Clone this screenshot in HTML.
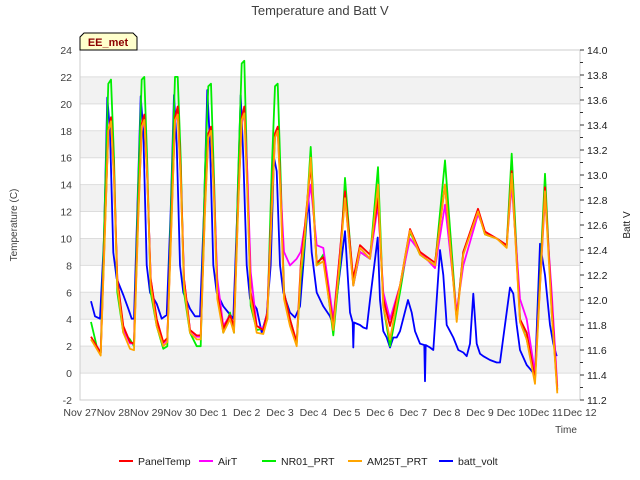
<!DOCTYPE html>
<html><head><meta charset="utf-8"><style>
body{margin:0;background:#fff;}
svg{display:block;font-family:"Liberation Sans","DejaVu Sans",sans-serif;}
</style></head><body>
<svg id="chart" width="640" height="480" viewBox="0 0 640 480">
<rect x="0" y="0" width="640" height="480" fill="#fff"/>
<g id="bands"></g>
<g id="grid"></g>
<rect x="80" y="50" width="500" height="350" fill="none" stroke="#ccc"/>
<g id="series"></g>
<g id="axes"></g>
<text x="320" y="15" text-anchor="middle" font-size="13" fill="#404040">Temperature and Batt V</text>
<g>
<path d="M80,50 L80,37 L84,33 L133,33 L137,37 L137,50 Z" fill="#ffffcc" stroke="#000" stroke-width="1"/>
<text x="108" y="46" text-anchor="middle" font-size="11" font-weight="bold" fill="#8b0000">EE_met</text>
</g>
<text transform="translate(17,225) rotate(-90)" text-anchor="middle" font-size="10" fill="#404040">Temperature (C)</text>
<text transform="translate(630,225) rotate(-90)" text-anchor="middle" font-size="10" fill="#202020">Batt V</text>
<text x="566" y="433" text-anchor="middle" font-size="10" fill="#404040">Time</text>
<g id="legend"></g>
</svg>
<script>
const xTickLabels=["Nov 27","Nov 28","Nov 29","Nov 30","Dec 1","Dec 2","Dec 3","Dec 4","Dec 5","Dec 6","Dec 7","Dec 8","Dec 9","Dec 10","Dec 11","Dec 12"];
const yTicks=[-2,0,2,4,6,8,10,12,14,16,18,20,22,24];
const y2Ticks=[11.2,11.4,11.6,11.8,12.0,12.2,12.4,12.6,12.8,13.0,13.2,13.4,13.6,13.8,14.0];
const seriesNames=["PanelTemp","AirT","NR01_PRT","AM25T_PRT","batt_volt"];
const T=[0.33,0.5,0.62,0.75,0.85,0.93,1.02,1.12,1.3,1.5,1.62,1.75,1.85,1.93,2.02,2.12,2.3,2.5,2.62,2.75,2.85,2.93,3.02,3.12,3.3,3.5,3.62,3.75,3.85,3.93,4.02,4.12,4.3,4.5,4.62,4.75,4.85,4.93,5.02,5.12,5.3,5.5,5.62,5.75,5.85,5.93,6.02,6.12,6.3,6.5,6.62,6.75,6.92,7.1,7.3,7.6,7.8,7.95,8.2,8.4,8.7,8.94,9.1,9.3,9.6,9.9,10.2,10.65,10.95,11.3,11.5,11.94,12.15,12.5,12.8,12.95,13.2,13.4,13.65,13.95,14.15,14.32];
const panelTemp=[2.7,2.0,1.5,11,18,19,15,7,3.5,2.3,2.2,12,18.5,19.2,14.5,7,4,2.3,2.6,12,19,19.8,15,7,3.2,2.8,2.8,12.5,17.8,18.3,13.5,6,3.3,4.3,3.5,13,19,19.8,14,6,3.5,3.2,4.5,12.5,17.8,18.3,13.5,6,4,2.3,8,11,15.5,8.2,8.6,3.5,9,13.5,7,9.5,8.8,13,5.5,3.5,6.5,10.7,9,8.2,14,4,9,12.2,10.5,10,9.5,15,4,3,-0.5,13.8,5,-1.3];
const airT=[2.5,2.0,1.5,11,18,18.7,14.5,7,3.3,2.2,2.2,12,18,19,14.5,7,4,2.2,2.5,12,18.5,19.5,14.5,7,3.2,2.7,2.7,12.5,17.5,18,13.5,7,3.5,4.3,3.5,13,18.5,19.5,15,7.5,3.5,3.3,4.5,12.5,17.5,18,13.5,9,8,8.5,9,11,14,9.5,9.3,4,9,13,6.5,9,8.5,12.5,6,4,6.5,10,9,7.8,12.5,4.5,8,11.8,10.5,10,9.5,14,5.5,4,0,13,6,-1];
const nr01=[3.8,2.0,1.5,13,21.5,21.8,16,6,3,2.5,2,14,21.8,22,15.5,6,3.5,1.8,2,14,22,22,16,6,3,2,2,15,21.3,21.5,14.5,6,3,4.5,3,15,23,23.2,14.5,5,3.2,3.3,4,15,21.3,21.5,14.5,6,4,2.2,7,10,16.8,8,8.8,2.8,8,14.5,6.5,9,8.5,15.3,5,2,6,10.5,8.8,8,15.8,4,9,12,10.3,10,9.5,16.3,4,2.5,-0.5,14.8,4.5,-1.2];
const am25t=[2.5,1.8,1.3,10.5,18,18.7,14.5,6.5,3,1.8,1.7,11.5,18.3,18.8,14.5,6.5,3.5,2,2.3,11.5,18.8,19.2,14.5,6.5,3,2.5,2.5,12,17.5,18,13,5.5,3,4,3,12.5,18.8,19.3,13.5,5.5,3,2.9,4,12,17.5,18,13,5.5,3.5,2,7.5,10.5,16,8,8.3,3.2,8.5,13,6.5,9.3,8.5,14,5,2.5,6.5,10.6,8.8,8,14,3.8,8.8,12,10.3,10,9.3,14.8,3.8,2.5,-0.8,13.5,4.5,-1.5];
const BT=[0.33,0.45,0.6,0.72,0.82,0.9,1.0,1.1,1.3,1.45,1.55,1.62,1.72,1.82,1.9,2.0,2.1,2.3,2.45,2.6,2.72,2.82,2.9,3.0,3.1,3.3,3.45,3.6,3.72,3.82,3.9,4.0,4.1,4.3,4.45,4.6,4.72,4.82,4.9,5.0,5.1,5.3,5.45,5.6,5.72,5.82,5.9,6.0,6.1,6.3,6.45,6.6,6.7,6.85,6.95,7.1,7.3,7.5,7.6,7.95,8.1,8.18,8.2,8.22,8.4,8.5,8.6,8.7,8.93,9.0,9.1,9.2,9.3,9.4,9.5,9.6,9.84,9.95,10.05,10.2,10.33,10.35,10.37,10.5,10.6,10.8,10.9,11.0,11.1,11.2,11.35,11.5,11.6,11.7,11.8,11.9,12.0,12.1,12.3,12.5,12.6,12.7,12.9,13.0,13.1,13.2,13.4,13.5,13.65,13.8,13.95,14.1,14.2,14.3];
const battVolt=[11.99,11.87,11.85,12.49,13.62,13.35,12.38,12.17,12.04,11.93,11.85,11.85,12.71,13.63,13.35,12.28,12.06,11.97,11.85,11.88,12.71,13.64,13.25,12.28,12.06,11.93,11.87,11.87,12.71,13.68,13.25,12.28,12.06,11.95,11.9,11.85,12.71,13.64,13.14,12.28,12.01,11.93,11.74,11.88,12.28,13.14,13.03,12.28,12.06,11.9,11.86,11.95,12.28,12.82,12.38,12.06,11.95,11.87,11.8,12.55,11.9,11.82,11.62,11.82,11.8,11.78,11.77,12.0,12.5,12.0,11.75,11.7,11.62,11.7,11.7,11.75,12.0,11.9,11.75,11.65,11.64,11.35,11.64,11.62,11.6,12.4,12.2,11.8,11.75,11.7,11.6,11.58,11.55,11.65,12.05,11.65,11.57,11.55,11.52,11.5,11.5,11.7,12.1,12.05,11.8,11.6,11.48,11.45,11.4,12.45,12.2,11.8,11.65,11.55];

const NS='http://www.w3.org/2000/svg';
const X0=80,X1=580,Y0=400,Y1=50;
function xs(t){return X0+(t/15)*(X1-X0);}
function ys(v){return Y0-(v+2)/26*(Y0-Y1);}
function y2s(v){return Y0-(v-11.2)/2.8*(Y0-Y1);}
function mk(tag,attrs,parent){const e=document.createElementNS(NS,tag);for(const k in attrs)e.setAttribute(k,attrs[k]);parent.appendChild(e);return e;}
const bands=document.getElementById('bands'),grid=document.getElementById('grid'),axes=document.getElementById('axes'),ser=document.getElementById('series'),leg=document.getElementById('legend');
for(let v=0;v<24;v+=4){
  const r=mk('rect',{x:X0,y:ys(v+2),width:X1-X0,height:ys(v)-ys(v+2),fill:'#f2f2f2'},bands);
  
  
}
yTicks.forEach(v=>{
  const l=mk('line',{x1:X0,x2:X1,y1:ys(v),y2:ys(v),stroke:'#ddd','stroke-width':1},grid);
  
  
  const t=mk('text',{x:72,y:ys(v)+4,'text-anchor':'end','font-size':10.5,fill:'#404040'},axes);
  t.textContent=v;
  
  
});
y2Ticks.forEach(v=>{
  const t=mk('text',{x:587,y:y2s(v)+4,'font-size':10.5,fill:'#202020'},axes);
  t.textContent=v.toFixed(1);
  
  
  const l=mk('line',{x1:X1,x2:X1+4,y1:y2s(v),y2:y2s(v),stroke:'#333'},axes);
  
  
  if(v<14){const m=mk('line',{x1:X1,x2:X1+3,y1:y2s(v+0.1),y2:y2s(v+0.1),stroke:'#333'},axes);
  
  }
});
xTickLabels.forEach((s,i)=>{
  const t=mk('text',{x:xs(i),y:416,'text-anchor':'middle','font-size':10.5,fill:'#404040'},axes);
  t.textContent=s;
  
  
});
const colors=['#ff0000','#ff00ff','#00ee00','#ffa500','#0000ff'];
function draw(tt,vals,scale,color,name){
  const p=mk('polyline',{points:tt.map((t,i)=>xs(t).toFixed(1)+','+scale(vals[i]).toFixed(1)).join(' '),fill:'none',stroke:color,'stroke-width':1.8,'stroke-linejoin':'round'},ser);
  
  
}
draw(BT,battVolt,y2s,colors[4],'batt-volt-line');
draw(T,nr01,ys,colors[2],'nr01-prt-line');
draw(T,airT,ys,colors[1],'airt-line');
draw(T,panelTemp,ys,colors[0],'paneltemp-line');
draw(T,am25t,ys,colors[3],'am25t-prt-line');
const legX=[119,199,262,348,439];
seriesNames.forEach((s,i)=>{
  const g=mk('g',{},leg);
  
  
  mk('line',{x1:legX[i],x2:legX[i]+14,y1:461,y2:461,stroke:colors[i],'stroke-width':2},g);
  const t=mk('text',{x:legX[i]+19,y:465,'font-size':10.5,fill:'#202020'},g);
  t.textContent=s;
});
</script>
</body></html>
